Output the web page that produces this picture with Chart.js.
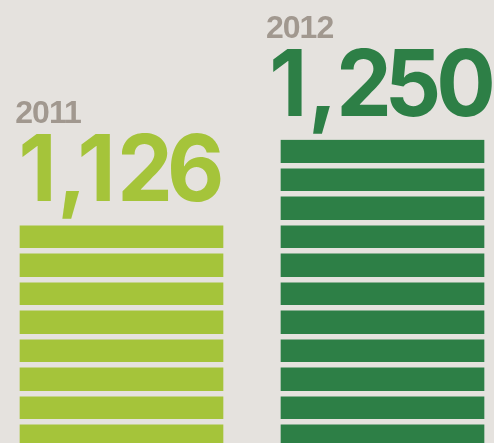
<!DOCTYPE html>
<html><head><meta charset="utf-8">
<script src="https://cdn.jsdelivr.net/npm/chart.js@4"></script>
<style>html,body{margin:0;padding:0;background:#e5e2de;overflow:hidden}canvas{display:block}</style>
</head><body>
<canvas id="c" width="494" height="443"></canvas>
<script>
// ---- data ----
const years = ['2011', '2012'];
const values = [1126, 1250];

// ---- style ----
const barColors = ['#a5c43a', '#2d7f46'];
const bgColor = '#e5e2de';
const yearColor = '#a1988f';
const stripeStep = 41.5;   // value units per stripe
const gapPx = 5.5;
const numFont = "bold 92px Inter, 'Liberation Sans', Arial, sans-serif";
const yearFont = "bold 32px 'Liberation Sans', Arial, sans-serif";
const numScaleX = 0.96;
function inkGap(ch, next) {
  if (ch === ',') return next === '1' ? 2 : 10;
  if (ch === '1') return 11;
  if (next === '1') return 10;
  if (next === ',') return 10;
  return 2.5;
}

function drawNumber(ctx, str, centerX, baseline) {
  ctx.font = numFont;
  const chars = [...str];
  const ms = chars.map(ch => ctx.measureText(ch));
  const inkW = ms.map(m => (m.actualBoundingBoxLeft + m.actualBoundingBoxRight) * numScaleX);
  const lefts = [];
  let x = 0;
  chars.forEach((ch, i) => {
    lefts.push(x);
    x += inkW[i];
    if (i < chars.length - 1) x += inkGap(ch, chars[i + 1]);
  });
  const start = centerX - x / 2;
  chars.forEach((ch, i) => {
    ctx.save();
    ctx.translate(start + lefts[i], baseline);
    ctx.scale(numScaleX, 1);
    ctx.fillText(ch, ms[i].actualBoundingBoxLeft, 0);
    ctx.restore();
  });
  return start;
}

const labelPlugin = {
  id: 'labels',
  afterDraw(chart) {
    const ctx = chart.ctx;
    const meta = chart.getDatasetMeta(0);
    meta.data.forEach((el, i) => {
      const top = el.y;
      ctx.save();
      ctx.textBaseline = 'alphabetic';
      ctx.textAlign = 'left';
      ctx.fillStyle = barColors[i];
      const numLeft = drawNumber(ctx, values[i].toLocaleString('en-US'), el.x, top - 24);
      ctx.fillStyle = yearColor;
      ctx.font = yearFont;
      ctx.letterSpacing = '-1px';
      const m = ctx.measureText(years[i]);
      ctx.fillText(years[i], numLeft - 6 + m.actualBoundingBoxLeft, top - 101.5);
      ctx.restore();
    });
  }
};

new Chart(document.getElementById('c'), {
  type: 'bar',
  data: {
    datasets: [{
      data: years.map((y, i) => ({ x: i, y: values[i] })),
      backgroundColor: barColors,
      borderWidth: 0,
      barThickness: 203
    }]
  },
  options: {
    responsive: false,
    animation: false,
    events: [],
    layout: { padding: 0 },
    plugins: { legend: { display: false }, tooltip: { enabled: false } },
    scales: {
      x: { type: 'linear', display: false, offset: false, grid: { offset: false }, min: -0.4655, max: 1.4272 },
      y: {
        type: 'linear',
        min: 808, max: 1454.2,
        border: { display: false },
        ticks: { display: false },
        grid: { color: bgColor, lineWidth: gapPx, drawTicks: false, z: 1 },
        afterBuildTicks(scale) {
          const anchor = Math.max(...values) + 4;
          const t = [];
          for (let v = anchor; v >= scale.min; v -= stripeStep) t.push({ value: v });
          scale.ticks = t;
        }
      }
    }
  },
  plugins: [labelPlugin]
});
</script>
</body></html>
